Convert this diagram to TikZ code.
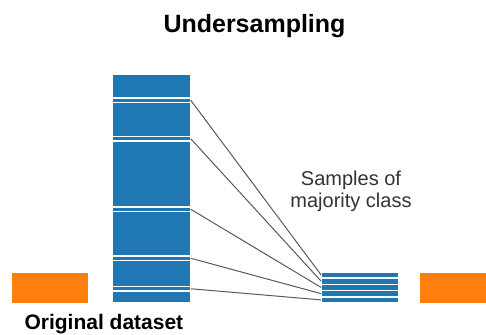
\documentclass[tikz,border=0pt]{standalone}
\usepackage{fontspec}
\setmainfont{Liberation Sans}
\usepackage{tikz}

\definecolor{skblue}{HTML}{1F77B4}
\definecolor{skorange}{HTML}{FF7F0E}
\definecolor{txtgray}{HTML}{333333}

\tikzset{
  blk/.style={fill=skblue, draw=white, line width=1.5pt, inner sep=0pt, outer sep=0pt, anchor=north west},
  org/.style={fill=skorange, inner sep=0pt, outer sep=0pt, anchor=north west},
  link/.style={draw=black!65, line width=1pt}
}

\begin{document}
\begin{tikzpicture}[x=1pt, y=-1pt]
  \useasboundingbox (0,0) rectangle (486,334);
  \node[font=\fontsize{25}{30}\selectfont\bfseries, anchor=base] (title) at (254.5,33) {Undersampling};
  % original majority column
  \foreach \nm/\t/\h in {c1/74/24, s1/98/4.5, c2/102.5/34, s2/136.5/4.5, c3/141/66,
                         s3/207/4.5, c4/211.5/44.5, s4/256/4.5, c5/260.5/26, s5/286.5/4.5, c6/291/12}
    \node[blk, minimum width=78.5pt, minimum height=\h pt] (\nm) at (112.25,\t) {};
  % picked samples
  \foreach \i in {1,...,5}
    \node[blk, minimum width=77.5pt, minimum height=6.2pt] (t\i) at (321.25,{272+6.2*(\i-1)}) {};
  \foreach \i in {1,...,5}
    \draw[link] (s\i.east) -- (t\i.west);
  \node[org, minimum width=76pt, minimum height=30pt] (minL) at (12,273) {};
  \node[org, minimum width=66pt, minimum height=30pt] (minR) at (420,273) {};
  \node[font=\fontsize{20}{22}\selectfont, text=txtgray, align=center] (samples) at (351,191) {Samples of\\majority class};
  \node[font=\fontsize{21}{25}\selectfont\bfseries, anchor=base west] (orig) at (21,329.5) {Original dataset};
\end{tikzpicture}
\end{document}
